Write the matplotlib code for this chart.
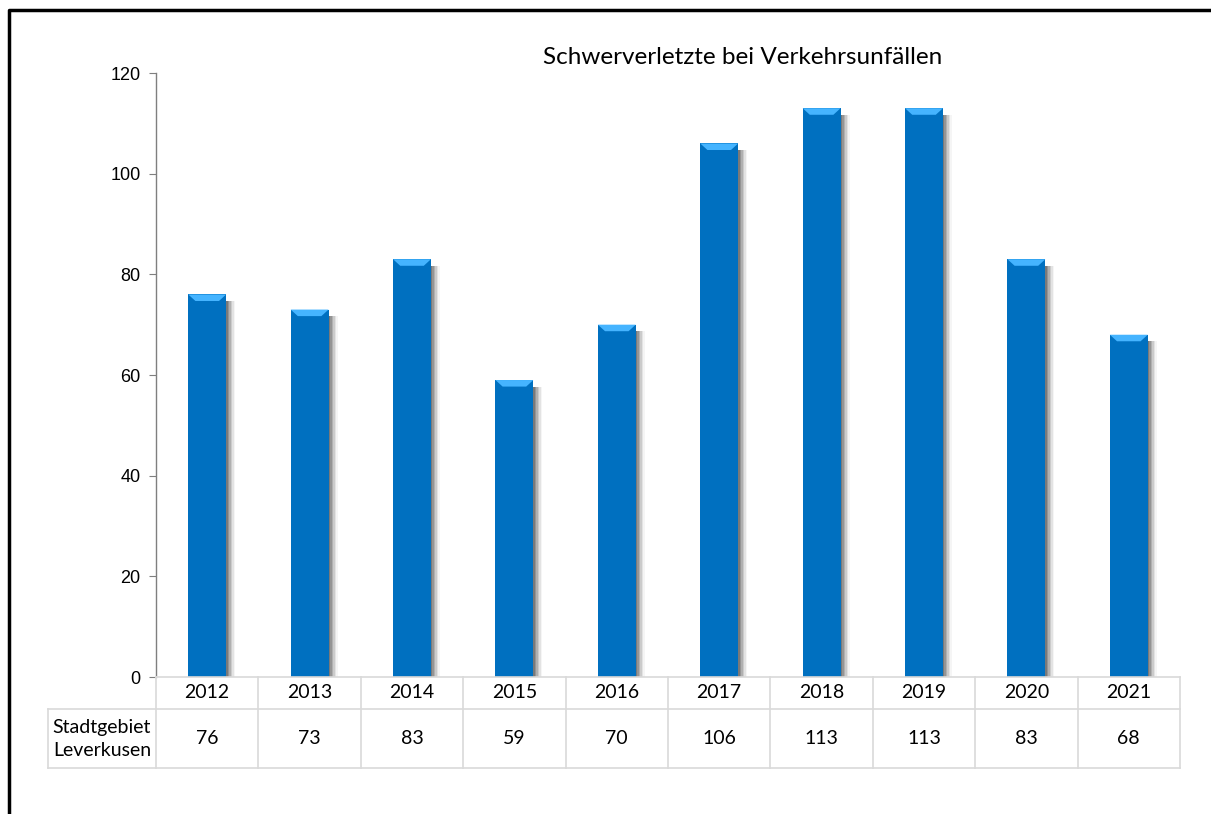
import matplotlib
matplotlib.use("Agg")
import matplotlib.pyplot as plt
from matplotlib.lines import Line2D
from matplotlib.patches import Polygon
import matplotlib.transforms as mtransforms

years = ["2012", "2013", "2014", "2015", "2016", "2017", "2018", "2019", "2020", "2021"]
values = [76, 73, 83, 59, 70, 106, 113, 113, 83, 68]
row_label = "Stadtgebiet\nLeverkusen"
title = "Schwerverletzte bei Verkehrsunfällen"
yticks = [0, 20, 40, 60, 80, 100, 120]

W, H = 1211, 814
fig = plt.figure(figsize=(W / 100, H / 100), dpi=100)
fig.patch.set_facecolor("white")

def fx(px):
    return px / W

def fy(py):
    return 1 - py / H

ax = fig.add_axes([fx(156), fy(677), fx(1180) - fx(156), fy(73) - fy(677)])
n = len(years)
x = list(range(n))
bw = 0.37
ax.set_xlim(-0.5, n - 0.5)
ax.set_ylim(0, 120)

# shadows
for k, a in [(1.5, 0.18), (3, 0.16), (4.5, 0.13), (6, 0.10), (7.5, 0.07), (9, 0.04)]:
    tr = mtransforms.offset_copy(ax.transData, fig=fig, x=k * 0.72, y=-1.5 * 0.72, units="points")
    ax.bar(x, [v - 1.0 for v in values], width=bw, color="black", alpha=a, transform=tr, zorder=1, linewidth=0)

ax.bar(x, values, width=bw, color="#0070C0", zorder=2, linewidth=0)

# top bevels
cap_h = 1.3
inset = 0.07
for xi, v in zip(x, values):
    poly = Polygon([(xi - bw / 2, v), (xi + bw / 2, v), (xi + bw / 2 - inset, v - cap_h), (xi - bw / 2 + inset, v - cap_h)],
                   closed=True, facecolor="#45B4FF", edgecolor="none", zorder=3)
    ax.add_patch(poly)

for s in ["top", "right", "bottom"]:
    ax.spines[s].set_visible(False)
ax.spines["left"].set_color("#7F7F7F")
ax.spines["left"].set_linewidth(1.0)
ax.set_xticks([])
ax.set_yticks(yticks)
ax.set_yticklabels([str(t) for t in yticks], fontsize=13, family="Liberation Sans", color="black")
ax.tick_params(axis="y", direction="out", length=5, color="#7F7F7F", pad=6)

ax.text(fx(743), fy(57), title, transform=fig.transFigure, ha="center", va="center", fontsize=17.5, family="Lato")

# table
grid_c = "#D9D9D9"
trans_x = mtransforms.blended_transform_factory(ax.transData, fig.transFigure)
y_axis = fy(677)
y_mid = fy(709)
y_bot = fy(768)
fig.add_artist(Line2D([fx(156), fx(1180)], [y_axis, y_axis], color=grid_c, lw=1.2))
fig.add_artist(Line2D([fx(48), fx(1180)], [y_mid, y_mid], color=grid_c, lw=1.2))
fig.add_artist(Line2D([fx(48), fx(1180)], [y_bot, y_bot], color=grid_c, lw=1.2))
fig.add_artist(Line2D([fx(48), fx(48)], [y_mid, y_bot], color=grid_c, lw=1.2))
for b in range(n + 1):
    fig.add_artist(Line2D([b - 0.5, b - 0.5], [y_axis, y_bot], color=grid_c, lw=1.2, transform=trans_x))
for xi, yr, v in zip(x, years, values):
    fig.text(xi, fy(693), yr, transform=trans_x, ha="center", va="center", fontsize=14, family="Lato")
    fig.text(xi, fy(739), str(v), transform=trans_x, ha="center", va="center", fontsize=14, family="Lato")
fig.text(fx(102), fy(739), row_label, ha="center", va="center", fontsize=14, family="Lato", linespacing=1.4)

# outer frame
fig.add_artist(Line2D([fx(9), fx(9), 1.0], [0.0, fy(10), fy(10)], color="black", lw=2.5))

fig.savefig("out.png", dpi=100, facecolor="white")
